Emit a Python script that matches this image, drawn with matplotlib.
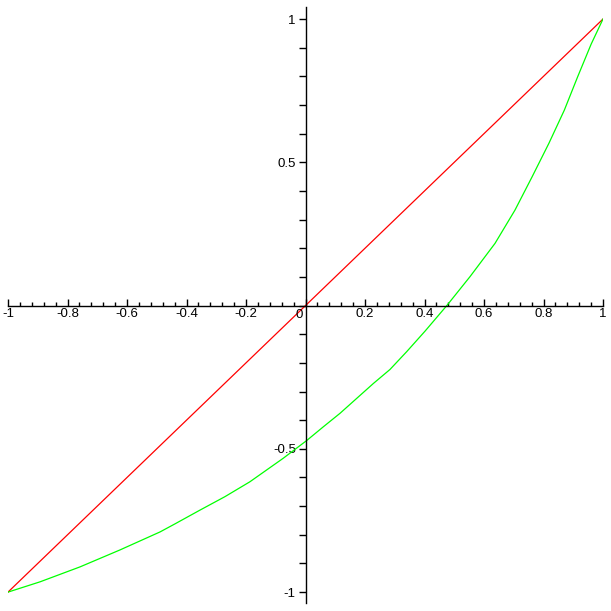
import matplotlib
matplotlib.use('Agg')
import matplotlib.pyplot as plt
from matplotlib.ticker import FixedLocator, MultipleLocator

# straight line y = x (red)
line_x = [-1.0, 1.0]
line_y = [-1.0, 1.0]

# green curve, values
curve_x = [-1.0, -0.892, -0.758, -0.624, -0.489, -0.439, -0.355, -0.271, -0.187,
           -0.075, 0.004, 0.060, 0.116, 0.172, 0.228, 0.284, 0.340, 0.402, 0.475,
           0.553, 0.637, 0.704, 0.762, 0.818, 0.870, 0.915, 0.960, 1.0]
curve_y = [-1.0, -0.964, -0.912, -0.853, -0.790, -0.762, -0.714, -0.667, -0.615,
           -0.533, -0.471, -0.423, -0.376, -0.324, -0.272, -0.223, -0.161, -0.089, 0.0,
           0.101, 0.217, 0.333, 0.450, 0.566, 0.682, 0.799, 0.912, 1.0]

xticks = [-1, -0.8, -0.6, -0.4, -0.2, 0, 0.2, 0.4, 0.6, 0.8, 1]
xlabels = ['-1', '-0.8', '-0.6', '-0.4', '-0.2', '', '0.2', '0.4', '0.6', '0.8', '1']
yticks = [-1, -0.5, 0.5, 1]
ylabels = ['-1', '-0.5', '0.5', '1']

plt.rcParams['font.family'] = ['Liberation Sans', 'DejaVu Sans']

W = 611.0
fig = plt.figure(figsize=(6.11, 6.11), dpi=100)
ax = fig.add_axes([8 / W, (611 - 603) / W, 595 / W, 596 / W])

ax.plot(line_x, line_y, color='#ff0000', lw=0.9)
ax.plot(curve_x, curve_y, color='#00ff00', lw=0.9)

ax.set_xlim(-1, 1)
ax.set_ylim(-1.038, 1.042)

for s in ['top', 'right']:
    ax.spines[s].set_visible(False)
ax.spines['left'].set_position(('data', 0))
ax.spines['bottom'].set_position(('data', 0))
ax.spines['left'].set_linewidth(1)
ax.spines['bottom'].set_linewidth(1)

ax.xaxis.set_major_locator(FixedLocator(xticks))
ax.set_xticklabels(xlabels)
ax.xaxis.set_minor_locator(MultipleLocator(0.04))
ax.yaxis.set_major_locator(FixedLocator(yticks))
ax.set_yticklabels(ylabels)
ax.yaxis.set_minor_locator(MultipleLocator(0.1))

ax.tick_params(axis='x', which='major', direction='in', length=5, width=1, pad=2, labelsize=9.5)
ax.tick_params(axis='x', which='minor', direction='in', length=3, width=1)
ax.tick_params(axis='y', which='major', direction='out', length=5, width=1, pad=2, labelsize=9.5)
ax.tick_params(axis='y', which='minor', direction='out', length=5, width=1)

ax.text(-0.008, -0.012, '0', ha='right', va='top', fontsize=9.5)

fig.savefig('out.png', dpi=100)
